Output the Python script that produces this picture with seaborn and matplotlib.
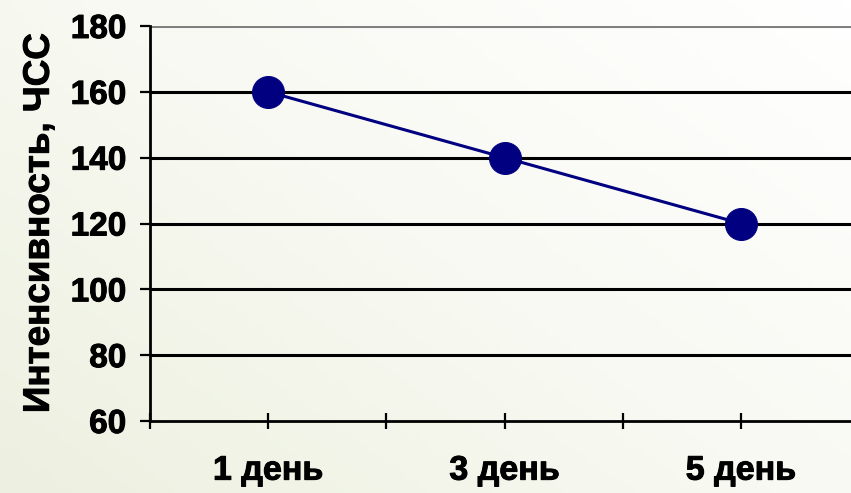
import numpy as np
import pandas as pd
import matplotlib
matplotlib.use("Agg")
import matplotlib.pyplot as plt
import matplotlib.patheffects as pe
import seaborn as sns
from matplotlib.colors import LinearSegmentedColormap

# Heart-rate intensity over training days
days = [1, 3, 5]
day_labels = ["1 день", "3 день", "5 день"]
hr_values = [160, 140, 120]
y_ticks = [60, 80, 100, 120, 140, 160, 180]

df = pd.DataFrame({"day": days, "hr": hr_values})

sns.set_theme(style="white")
plt.rcParams["font.family"] = ["Liberation Sans", "DejaVu Sans"]

fig = plt.figure(figsize=(8.51, 4.93), dpi=100)

# Soft cream-to-white background gradient
bg = fig.add_axes([0, 0, 1, 1], zorder=-10)
xx, yy = np.meshgrid(np.linspace(0, 1, 200), np.linspace(0, 1, 120))
grad = np.clip(0.55 * xx + 0.45 * yy, 0, 1)
cmap = LinearSegmentedColormap.from_list("bg", ["#edf0e0", "#f8f9f2", "#ffffff"])
bg.imshow(grad, cmap=cmap, aspect="auto", origin="lower", extent=[0, 1, 0, 1])
bg.axis("off")

ax = fig.add_axes([150 / 851, 72 / 493, 1 - 150 / 851, 395 / 493])
ax.patch.set_alpha(0)

navy = "#000080"
sns.lineplot(data=df, x="day", y="hr", ax=ax, color=navy, linewidth=2.2,
             marker="o", markersize=23, markerfacecolor=navy,
             markeredgecolor=navy, zorder=5)

heavy = [pe.withStroke(linewidth=0.7, foreground="black")]

ax.set_xlim(0, 701 / 118.2)
ax.set_ylim(60, 180)
ax.set_yticks(y_ticks)
ax.set_yticklabels([str(v) for v in y_ticks], fontsize=24, fontweight="bold")
for t in ax.get_yticklabels():
    t.set_path_effects(heavy)
ax.set_xticks(range(0, 6))
ax.set_xticklabels([""] * 6)
for d, lab in zip(days, day_labels):
    ax.text(d, -0.127, lab, transform=ax.get_xaxis_transform(), ha="center",
            va="center", fontsize=24.5, fontweight="bold", color="black",
            path_effects=heavy)

# Horizontal grid lines
for v in y_ticks[1:]:
    ax.axhline(v, color="#808080" if v == 180 else "black",
               linewidth=2.2, zorder=1)

for side in ["top", "right"]:
    ax.spines[side].set_visible(False)
for side in ["left", "bottom"]:
    ax.spines[side].set_color("black")
    ax.spines[side].set_linewidth(2.0)

ax.tick_params(axis="y", which="major", left=True, direction="out", length=7,
               width=1.6, color="black", pad=10, labelcolor="black")
ax.tick_params(axis="x", which="major", bottom=True, direction="inout",
               length=11.5, width=1.6, color="black")

ax.set_xlabel("")
ax.set_ylabel("Интенсивность, ЧСС", fontsize=26.5, fontweight="bold",
              labelpad=10, color="black", path_effects=heavy)

fig.savefig("out.png", dpi=100)
